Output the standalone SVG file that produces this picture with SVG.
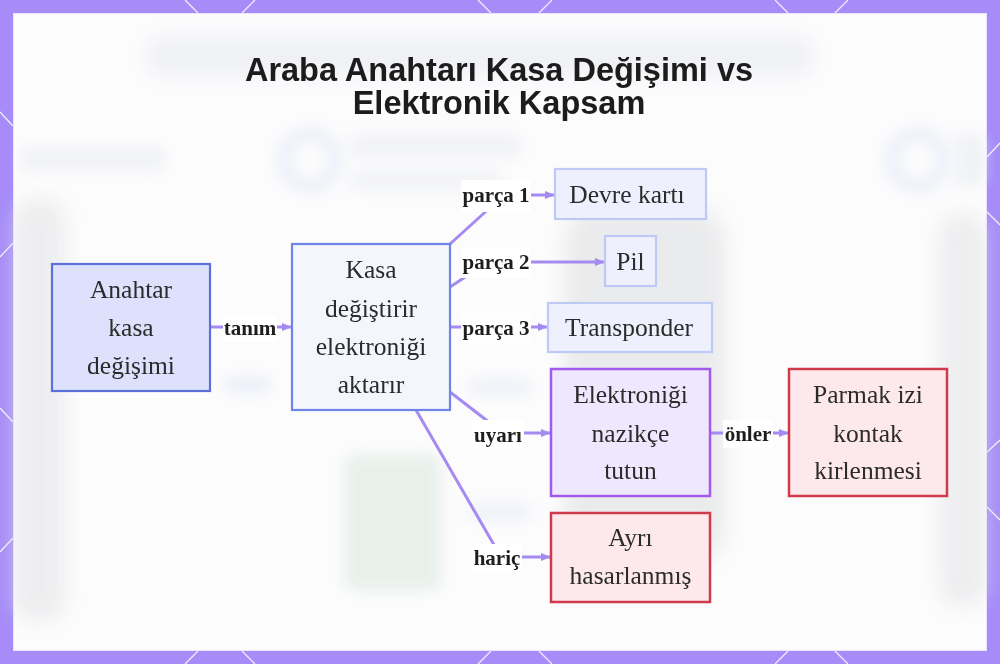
<svg xmlns="http://www.w3.org/2000/svg" width="1000" height="664" viewBox="0 0 1000 664">
  <style>
    .title { font-family: "Liberation Sans", Arial, sans-serif; font-weight: bold; font-size: 32.5px; fill: #1c1c1c; text-anchor: middle; }
    .nt { font-family: "Liberation Serif", "Times New Roman", serif; font-size: 25.5px; fill: #2b2b2b; text-anchor: middle; }
    .lbl { font-family: "Liberation Serif", "Times New Roman", serif; font-weight: bold; font-size: 21px; fill: #1e1e1e; text-anchor: middle; }
    .lblbg { fill: #ffffff; }
    .edge { fill: none; stroke: #a58af2; stroke-width: 3; stroke-linejoin: round; }
    .hex { stroke: #ffffff; stroke-width: 1.3; opacity: 0.85; }
    .blue-main { fill: #dde1fb; stroke: #5b70d8; stroke-width: 2.2; }
    .blue-soft { fill: #f4f6fe; stroke: #6f84e6; stroke-width: 2.2; }
    .blue-light { fill: #eef1fd; stroke: #bfc9f6; stroke-width: 2.2; }
    .purple { fill: #efe7fd; stroke: #a25ae9; stroke-width: 2.5; }
    .red { fill: #fde9eb; stroke: #cf3b4b; stroke-width: 2.5; }
  </style>
  <defs>
    <marker id="arr" markerUnits="userSpaceOnUse" markerWidth="10" markerHeight="8" refX="9" refY="4" orient="auto">
      <path d="M0,0 L10,4 L0,8 Z" fill="#a58af2"/>
    </marker>
    <filter id="blur" filterUnits="userSpaceOnUse" x="0" y="0" width="1000" height="664">
      <feGaussianBlur stdDeviation="10"/>
    </filter>
    <filter id="blur2" filterUnits="userSpaceOnUse" x="0" y="0" width="1000" height="664">
      <feGaussianBlur stdDeviation="7"/>
    </filter>
  </defs>

  <!-- frame -->
  <rect x="0" y="0" width="1000" height="664" fill="#a68bf9"/>
  <g id="frame-pattern">
    <line class="hex" x1="185" y1="0" x2="198" y2="13"/>
    <line class="hex" x1="255" y1="0" x2="242" y2="13"/>
    <line class="hex" x1="478" y1="0" x2="491" y2="13"/>
    <line class="hex" x1="552" y1="0" x2="539" y2="13"/>
    <line class="hex" x1="775" y1="0" x2="788" y2="13"/>
    <line class="hex" x1="848" y1="0" x2="835" y2="13"/>
    <line class="hex" x1="185" y1="664" x2="198" y2="651"/>
    <line class="hex" x1="255" y1="664" x2="242" y2="651"/>
    <line class="hex" x1="478" y1="664" x2="491" y2="651"/>
    <line class="hex" x1="552" y1="664" x2="539" y2="651"/>
    <line class="hex" x1="775" y1="664" x2="788" y2="651"/>
    <line class="hex" x1="848" y1="664" x2="835" y2="651"/>
    <line class="hex" x1="0" y1="112" x2="13" y2="126"/>
    <line class="hex" x1="0" y1="257" x2="13" y2="243"/>
    <line class="hex" x1="0" y1="408" x2="13" y2="422"/>
    <line class="hex" x1="0" y1="552" x2="13" y2="538"/>
    <line class="hex" x1="1000" y1="143" x2="987" y2="157"/>
    <line class="hex" x1="1000" y1="225" x2="987" y2="212"/>
    <line class="hex" x1="1000" y1="440" x2="987" y2="452"/>
    <line class="hex" x1="1000" y1="520" x2="987" y2="507"/>
  </g>
  <rect x="13.5" y="13.5" width="973" height="637" fill="#fcfcfd" stroke="#e9e3fd" stroke-width="1"/>

  <!-- blurred background photo impression -->
  <g id="backdrop" opacity="0.6">
    <rect x="150" y="38" width="660" height="36" rx="10" fill="#e6e8ee" filter="url(#blur)"/>
    <circle cx="310" cy="160" r="26" fill="none" stroke="#dfe5f5" stroke-width="12" filter="url(#blur2)"/>
    <circle cx="918" cy="160" r="26" fill="none" stroke="#dfe5f5" stroke-width="12" filter="url(#blur2)"/>
    <rect x="350" y="135" width="170" height="22" rx="6" fill="#e9ebf0" filter="url(#blur2)"/>
    <rect x="350" y="170" width="150" height="20" rx="6" fill="#ebedf1" filter="url(#blur2)"/>
    <rect x="20" y="148" width="145" height="22" rx="6" fill="#e9ebf0" filter="url(#blur2)"/>
    <rect x="955" y="135" width="30" height="50" rx="6" fill="#e9ebf0" filter="url(#blur2)"/>
    <rect x="14" y="200" width="50" height="420" rx="20" fill="#e2e3e5" filter="url(#blur)"/>
    <rect x="565" y="205" width="160" height="360" rx="40" fill="#dedfe1" filter="url(#blur)"/>
    <rect x="940" y="215" width="46" height="390" rx="20" fill="#e2e3e5" filter="url(#blur)"/>
    <rect x="345" y="455" width="95" height="135" rx="8" fill="#d9e8de" filter="url(#blur2)"/>
    <rect x="225" y="378" width="45" height="14" rx="6" fill="#dde3f4" filter="url(#blur2)"/>
    <rect x="470" y="380" width="60" height="14" rx="6" fill="#e2e7f4" filter="url(#blur2)"/>
    <rect x="470" y="505" width="60" height="14" rx="6" fill="#e2e7f4" filter="url(#blur2)"/>
  </g>

  <!-- title -->
  <text class="title" x="499" y="81">Araba Anahtarı Kasa Değişimi vs</text>
  <text class="title" x="499" y="114">Elektronik Kapsam</text>

  <!-- connectors -->
  <g id="connectors">
    <path class="edge" d="M211,327 L291,327" marker-end="url(#arr)"/>
    <path class="edge" d="M450,244 L504,195 L554,195" marker-end="url(#arr)"/>
    <path class="edge" d="M450,287 L488,262 L604,262" marker-end="url(#arr)"/>
    <path class="edge" d="M450,327 L547,327" marker-end="url(#arr)"/>
    <path class="edge" d="M450,392 L503,433 L550,433" marker-end="url(#arr)"/>
    <path class="edge" d="M416,410 L501,557 L550,557" marker-end="url(#arr)"/>
    <path class="edge" d="M710,433 L788,433" marker-end="url(#arr)"/>

    <rect class="lblbg" x="223" y="316" width="54" height="26"/>
    <text class="lbl" x="250" y="335">tanım</text>
    <rect class="lblbg" x="461" y="180" width="70" height="32"/>
    <text class="lbl" x="496" y="202">parça 1</text>
    <rect class="lblbg" x="461" y="248" width="70" height="30"/>
    <text class="lbl" x="496" y="269">parça 2</text>
    <rect class="lblbg" x="461" y="313" width="70" height="30"/>
    <text class="lbl" x="496" y="335">parça 3</text>
    <rect class="lblbg" x="472" y="420" width="52" height="28"/>
    <text class="lbl" x="498" y="442">uyarı</text>
    <rect class="lblbg" x="472" y="544" width="50" height="28"/>
    <text class="lbl" x="497" y="565">hariç</text>
    <rect class="lblbg" x="723" y="420" width="50" height="28"/>
    <text class="lbl" x="748" y="441">önler</text>
  </g>

  <!-- nodes -->
  <g id="n-anahtar">
    <rect class="blue-main" x="52" y="264" width="158" height="127"/>
    <text class="nt" x="131" y="298">Anahtar</text>
    <text class="nt" x="131" y="336">kasa</text>
    <text class="nt" x="131" y="374">değişimi</text>
  </g>
  <g id="n-kasa">
    <rect class="blue-soft" x="292" y="244" width="158" height="166"/>
    <text class="nt" x="371" y="278">Kasa</text>
    <text class="nt" x="371" y="317">değiştirir</text>
    <text class="nt" x="371" y="355">elektroniği</text>
    <text class="nt" x="371" y="393">aktarır</text>
  </g>
  <g id="n-devre">
    <rect class="blue-light" x="555" y="169" width="151" height="50"/>
    <text class="nt" x="627" y="203">Devre kartı</text>
  </g>
  <g id="n-pil">
    <rect class="blue-light" x="605" y="236" width="51" height="50"/>
    <text class="nt" x="630.5" y="270">Pil</text>
  </g>
  <g id="n-transponder">
    <rect class="blue-light" x="548" y="303" width="164" height="49"/>
    <text class="nt" x="629" y="336">Transponder</text>
  </g>
  <g id="n-tutun">
    <rect class="purple" x="551" y="369" width="159" height="127"/>
    <text class="nt" x="630.5" y="403">Elektroniği</text>
    <text class="nt" x="630.5" y="442">nazikçe</text>
    <text class="nt" x="630.5" y="479">tutun</text>
  </g>
  <g id="n-parmak">
    <rect class="red" x="789" y="369" width="158" height="127"/>
    <text class="nt" x="868" y="403">Parmak izi</text>
    <text class="nt" x="868" y="442">kontak</text>
    <text class="nt" x="868" y="479">kirlenmesi</text>
  </g>
  <g id="n-ayri">
    <rect class="red" x="551" y="513" width="159" height="89"/>
    <text class="nt" x="630.5" y="546">Ayrı</text>
    <text class="nt" x="630.5" y="584">hasarlanmış</text>
  </g>
</svg>
